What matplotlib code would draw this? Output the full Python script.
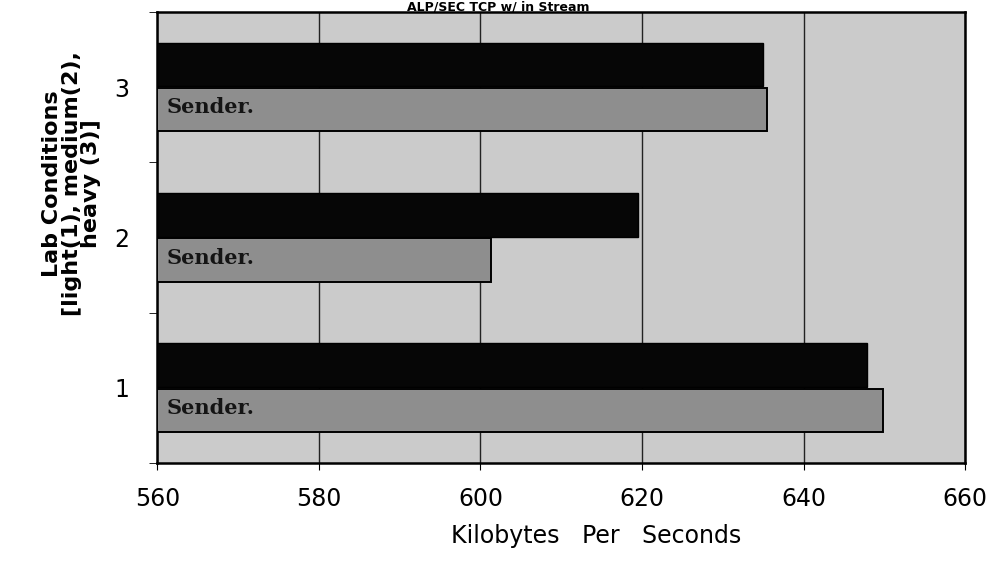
import numpy as np
import matplotlib.pyplot as plt

# data
conditions = [1, 2, 3]
sender_kbps = [649.8, 601.3, 635.5]
other_kbps = [647.9, 619.5, 635.0]
x_ticks = [560, 580, 600, 620, 640, 660]

fig = plt.figure(figsize=(9.96, 5.66), dpi=100)
ax = fig.add_axes([0.158, 0.182, 0.811, 0.797])

ax.set_facecolor('#cbcbcb')
ax.set_xlim(560, 660)
ax.set_ylim(0.5, 3.5)

y = np.array(conditions)
h = 0.29
# gray "Sender" bars (lower) and black bars (upper)
ax.barh(y - h / 2 - 0.005, [v - 560 for v in sender_kbps], height=h, left=560,
        color='#8e8e8e', edgecolor='black', linewidth=1.4, zorder=3)
ax.barh(y + h / 2 + 0.005, [v - 560 for v in other_kbps], height=h, left=560,
        color='#060606', edgecolor='black', linewidth=1, zorder=3)

for yy in y:
    ax.text(561.2, yy - h / 2 + 0.01, 'Sender.', fontsize=15, fontweight='bold',
            family='DejaVu Serif', color='#141414', va='center', zorder=4)

ax.set_xticks(x_ticks)
ax.set_xticklabels([str(t) for t in x_ticks], fontsize=17)
ax.set_yticks(conditions)
ax.set_yticklabels([str(c) for c in conditions], fontsize=17)
ax.set_yticks([0.5, 1.5, 2.5, 3.5], minor=True)
ax.tick_params(axis='y', which='major', length=0, pad=20)
ax.tick_params(axis='y', which='minor', length=6, direction='out')
ax.tick_params(axis='x', length=5, direction='out', pad=12)
ax.grid(axis='x', color='#222222', linewidth=1, zorder=1)
ax.set_axisbelow(True)
for s in ax.spines.values():
    s.set_linewidth(1.8)

ax.set_xlabel('Kilobytes   Per   Seconds', fontsize=17)
ax.xaxis.set_label_coords(0.543, -0.135)
ax.set_ylabel('Lab Conditions\n[light(1), medium(2),\nheavy (3)]', fontsize=16,
              fontweight='bold', linespacing=0.95)
ax.yaxis.set_label_coords(-0.07, 0.62)

# title sits in the thin strip above the plot
fig.text(0.5, 0.999, 'ALP/SEC TCP w/ in Stream', ha='center', va='top',
         fontsize=9, fontweight='bold')

fig.savefig('out.png', dpi=100)
